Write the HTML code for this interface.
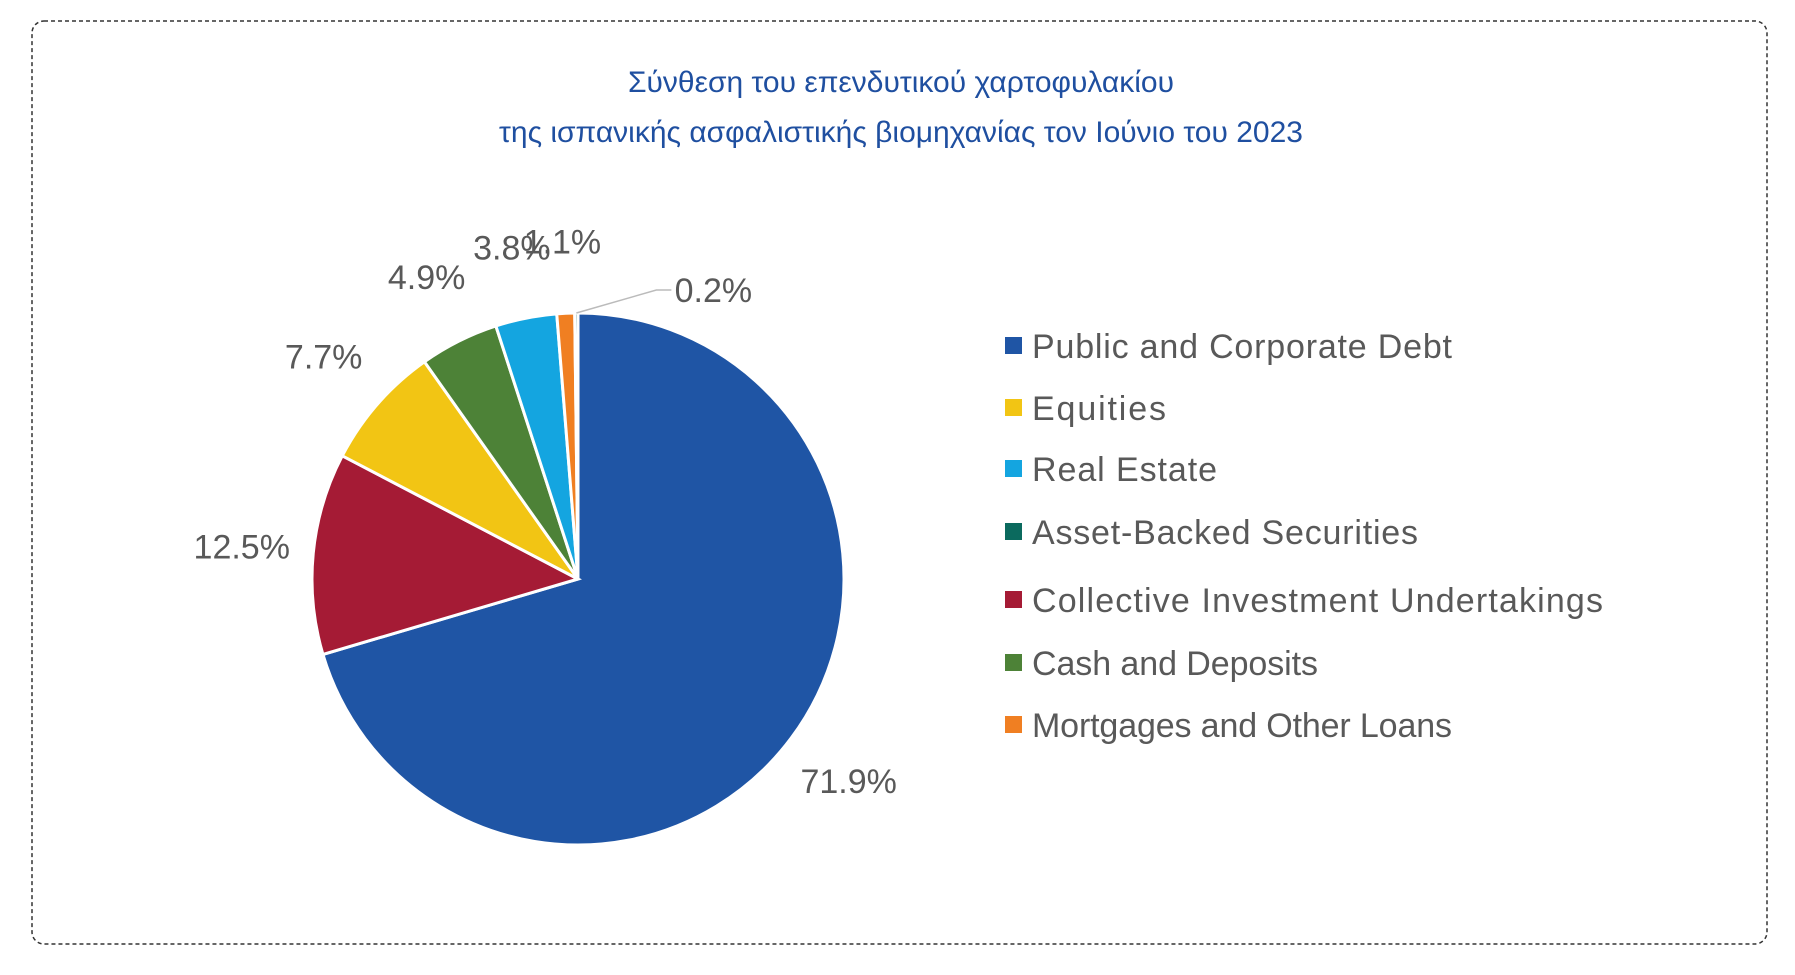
<!DOCTYPE html>
<html><head><meta charset="utf-8"><style>
html,body{margin:0;padding:0;background:#fff;}
svg{display:block;font-family:"Liberation Sans",sans-serif;}
</style></head><body>
<svg id="chart" width="1795" height="975" viewBox="0 0 1795 975">
<rect x="32" y="21" width="1735" height="923" rx="12" fill="#fff" stroke="#333" stroke-width="1.5" stroke-dasharray="4,3"/>
<text x="901" y="92" text-anchor="middle" font-size="30" fill="#1f4fa0">Σύνθεση του επενδυτικού χαρτοφυλακίου</text>
<text x="901" y="142" text-anchor="middle" font-size="30" fill="#1f4fa0">της ισπανικής ασφαλιστικής βιομηχανίας τον Ιούνιο του 2023</text>
<g id="slices"></g><g id="labels"></g><g id="legend"></g>
</svg>
<script>
const categories = ["Public and Corporate Debt","Collective Investment Undertakings","Equities","Cash and Deposits","Real Estate","Mortgages and Other Loans","Asset-Backed Securities"];
const values = [71.9,12.5,7.7,4.9,3.8,1.1,0.2];
const valueLabels = ["71.9%","12.5%","7.7%","4.9%","3.8%","1.1%","0.2%"];
const legendOrder = ["Public and Corporate Debt","Equities","Real Estate","Asset-Backed Securities","Collective Investment Undertakings","Cash and Deposits","Mortgages and Other Loans"];
const colorMap = {"Public and Corporate Debt":"#1f55a5","Equities":"#f2c514","Real Estate":"#14a5e0","Asset-Backed Securities":"#0b6a5e","Collective Investment Undertakings":"#a51b35","Cash and Deposits":"#4d8237","Mortgages and Other Loans":"#f07f22"};
const NS="http://www.w3.org/2000/svg";
const cx=578, cy=579, r=266;
const total=values.reduce((a,b)=>a+b,0);
function pt(a,rad){return [cx+rad*Math.sin(a), cy-rad*Math.cos(a)];}
const gS=document.getElementById('slices'), gL=document.getElementById('labels'), gG=document.getElementById('legend');
let acc=0;
values.forEach((v,i)=>{
  const a0=acc/total*2*Math.PI; acc+=v; const a1=acc/total*2*Math.PI;
  const p0=pt(a0,r), p1=pt(a1,r);
  const large=(a1-a0)>Math.PI?1:0;
  const p=document.createElementNS(NS,'path');
  p.setAttribute('d',`M${cx},${cy}L${p0[0]},${p0[1]}A${r},${r} 0 ${large} 1 ${p1[0]},${p1[1]}Z`);
  p.setAttribute('fill',colorMap[categories[i]]);
  p.setAttribute('stroke','#fff');p.setAttribute('stroke-width','3');
  
  
  gS.appendChild(p);
  const am=(a0+a1)/2;
  let lp=pt(am,r*1.27);
  const t=document.createElementNS(NS,'text');
  if(v<0.5){
    const e=pt(am,r); const m=[e[0]+80,e[1]-23];
    const l=document.createElementNS(NS,'polyline');
    l.setAttribute('points',`${e[0]},${e[1]} ${m[0]},${m[1]} ${m[0]+15},${m[1]}`);
    l.setAttribute('fill','none');l.setAttribute('stroke','#bbb');l.setAttribute('stroke-width','1.5');
    
    
    gL.appendChild(l);
    lp=[m[0]+57,m[1]];
  }
  t.setAttribute('x',lp[0]);t.setAttribute('y',lp[1]+12);
  t.setAttribute('text-anchor','middle');t.setAttribute('font-size','34');t.setAttribute('fill','#595959');
  t.textContent=valueLabels[i];
  
  
  gL.appendChild(t);
});
const ly=[346,408,469,532,600,663,725];
legendOrder.forEach((c,i)=>{
  const g=document.createElementNS(NS,'g');
  
  
  const s=document.createElementNS(NS,'rect');
  s.setAttribute('x',1005);s.setAttribute('y',ly[i]-9);s.setAttribute('width',17);s.setAttribute('height',17);
  s.setAttribute('fill',colorMap[c]);
  const t=document.createElementNS(NS,'text');
  t.setAttribute('x',1032);t.setAttribute('y',ly[i]+12);t.setAttribute('font-size','34');t.setAttribute('fill','#595959');
  t.setAttribute('textLength', Math.round(c.length*16.8));
  t.textContent=c;
  g.appendChild(s);g.appendChild(t);gG.appendChild(g);
});
</script>
</body></html>
